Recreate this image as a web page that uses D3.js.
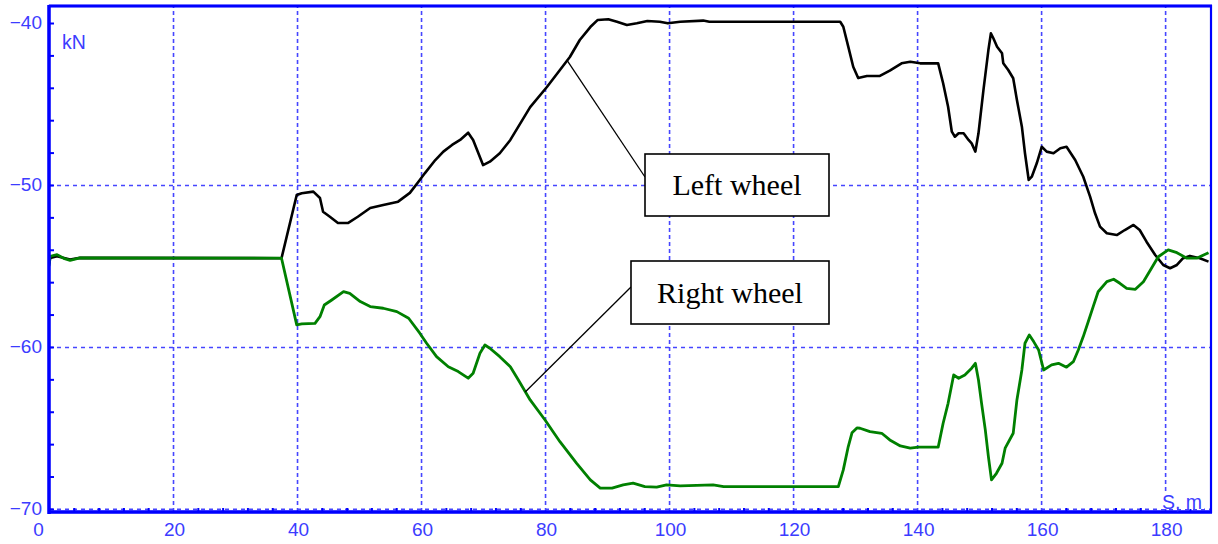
<!DOCTYPE html>
<html>
<head>
<meta charset="utf-8">
<script src="https://cdn.jsdelivr.net/npm/d3@7"></script>
<style>
  html, body { margin: 0; padding: 0; background: #fff; }
  svg { display: block; }
</style>
</head>
<body>
<svg id="chart" width="1218" height="544"></svg>
<script>
// ---------- data ----------
const xTicks = [0, 20, 40, 60, 80, 100, 120, 140, 160, 180];
const yTicks = [-70, -60, -50, -40];
const xUnit = "S, m";
const yUnit = "kN";
const seriesNames = ["Left wheel", "Right wheel"];

const leftWheel = [
  [0,-54.9],[0.2,-54.5],[1.3,-54.4],[3.4,-54.6],[5,-54.5],[37.5,-54.52],[39.95,-50.62],[40.76,-50.51],
  [42.63,-50.41],[43.7,-50.8],[44.2,-51.65],[45.3,-51.96],[46.6,-52.35],[48.2,-52.35],[49.8,-51.96],
  [51.8,-51.42],[53.9,-51.23],[56.3,-51.03],[58.2,-50.49],[59.8,-49.69],[60.6,-49.28],[62.3,-48.46],
  [63.6,-47.94],[65.0,-47.53],[66.3,-47.22],[67.6,-46.77],[68.4,-47.22],[70.0,-48.77],[71.1,-48.56],
  [72.7,-48.04],[74.4,-47.22],[77.6,-45.19],[80.3,-43.95],[82.4,-42.90],[84.0,-42.10],[85.6,-41.05],
  [87.3,-40.25],[88.5,-39.81],[90.2,-39.77],[91.6,-39.92],[93.2,-40.12],[94.8,-40.02],[96.5,-39.88],
  [98.5,-39.92],[99.8,-40.02],[101.8,-39.92],[105.5,-39.85],[106.5,-39.92],[127.6,-39.92],[128.1,-40.23],
  [128.9,-41.46],[129.7,-42.70],[130.5,-43.40],[131.9,-43.27],[134.0,-43.27],[135.6,-42.94],[137.5,-42.49],
  [138.9,-42.39],[140.5,-42.49],[143.4,-42.49],[144.2,-43.72],[145.0,-45.17],[145.6,-46.71],[146.1,-47.02],
  [146.7,-46.81],[147.5,-46.81],[148.3,-47.22],[148.8,-47.43],[149.4,-47.94],[149.9,-46.81],[150.7,-44.14],
  [151.5,-41.67],[151.9,-40.64],[152.3,-40.94],[152.9,-41.46],[153.7,-41.87],[153.9,-42.49],[154.7,-42.90],
  [155.5,-43.41],[156.1,-44.75],[156.9,-46.40],[157.4,-48.04],[158.0,-49.69],[158.5,-49.49],[159.3,-48.66],
  [160.1,-47.64],[160.9,-47.94],[162.0,-48.04],[163.1,-47.73],[164.1,-47.64],[165.5,-48.46],[166.8,-49.49],
  [167.9,-50.72],[168.7,-51.75],[169.5,-52.57],[170.6,-52.98],[172.2,-53.09],[173.5,-52.78],[174.9,-52.47],
  [175.9,-52.78],[177.0,-53.50],[178.4,-54.32],[179.7,-54.94],[180.8,-55.14],[181.9,-54.94],[182.9,-54.52],
  [184.0,-54.38],[185.6,-54.52],[187.0,-54.73]
];

const rightWheel = [
  [0,-55.0],[0.2,-54.4],[1.3,-54.3],[2.5,-54.55],[3.4,-54.65],[5,-54.5],[37.5,-54.52],[39.95,-58.64],
  [40.76,-58.58],[42.9,-58.54],[43.7,-58.13],[44.4,-57.41],[45.6,-57.10],[47.5,-56.59],[48.5,-56.69],
  [50.2,-57.20],[51.8,-57.51],[53.9,-57.61],[56.1,-57.82],[58.0,-58.23],[59.8,-59.15],[60.9,-59.77],
  [62.5,-60.60],[64.4,-61.22],[66.0,-61.52],[67.6,-61.93],[68.4,-61.62],[69.5,-60.39],[70.3,-59.88],
  [71.1,-60.08],[72.7,-60.60],[74.4,-61.22],[75.7,-62.04],[77.6,-63.27],[80.0,-64.51],[82.4,-65.85],
  [85.1,-67.19],[87.3,-68.21],[88.9,-68.72],[90.8,-68.72],[92.6,-68.52],[94.2,-68.41],[96.1,-68.62],
  [98.0,-68.66],[99.6,-68.52],[101.8,-68.58],[107.1,-68.52],[108.8,-68.62],[127.3,-68.62],[128.1,-67.59],
  [128.9,-66.15],[129.5,-65.3],[130.3,-65.0],[130.8,-65.02],[132.4,-65.23],[134.3,-65.33],[135.6,-65.74],
  [137.3,-66.11],[138.9,-66.25],[140.2,-66.19],[143.4,-66.19],[144.2,-64.71],[145.0,-63.48],[145.9,-61.73],
  [146.7,-61.93],[147.7,-61.73],[148.8,-61.31],[149.4,-61.01],[149.9,-62.04],[150.4,-63.48],[151.0,-65.12],
  [151.5,-66.77],[152.0,-68.21],[152.8,-67.80],[153.7,-67.18],[154.2,-66.25],[155.5,-65.33],[156.1,-63.27],
  [156.9,-61.42],[157.4,-59.77],[158.1,-59.26],[158.8,-59.67],[159.6,-60.19],[160.4,-61.42],[161.7,-61.11],
  [162.8,-61.01],[164.1,-61.25],[165.2,-60.91],[166.0,-60.19],[166.8,-59.36],[167.6,-58.44],[168.4,-57.51],
  [169.2,-56.59],[170.6,-55.97],[171.7,-55.82],[172.7,-56.07],[173.8,-56.38],[175.2,-56.44],[176.5,-55.97],
  [177.8,-55.14],[178.9,-54.43],[180.5,-54.01],[181.9,-54.18],[183.5,-54.52],[185.1,-54.52],[187.0,-54.18]
];

// callout anchor points on the curves (data coords)
const leftAnchor = [83.5, -42.28];
const rightAnchor = [76.8, -62.78];

// ---------- layout ----------
const svg = d3.select("#chart");
const plot = { left: 49, right: 1211, top: 6, bottom: 512 };
const x = d3.scaleLinear().domain([0, 187.4]).range([plot.left, plot.right]);
const y = d3.scaleLinear().domain([-70.19, -38.95]).range([plot.bottom, plot.top]);

const gridColor = "#4646ff";
const labelColor = "#3c3cff";
const axisColor = "#0000ff";
const labelFont = "Arial, 'Liberation Sans', sans-serif";

svg.append("rect").attr("width", 1218).attr("height", 544).attr("fill", "#fff");

svg.append("defs").append("clipPath").attr("id", "clip")
  .append("rect")
  .attr("x", plot.left).attr("y", plot.top)
  .attr("width", plot.right - plot.left).attr("height", plot.bottom - plot.top);

// gridlines (vertical)
const gx = svg.append("g")
  .attr("transform", `translate(0,${plot.bottom})`)
  .call(d3.axisBottom(x).tickValues(xTicks.filter(d => d > 0))
    .tickSize(-(plot.bottom - plot.top)).tickFormat(""));
gx.select(".domain").remove();
gx.selectAll("line").attr("stroke", gridColor).attr("stroke-width", 1.6).attr("stroke-dasharray", "4,3");

// gridlines (horizontal)
const gy = svg.append("g")
  .attr("transform", `translate(${plot.left},0)`)
  .call(d3.axisLeft(y).tickValues(yTicks.filter(d => d < -40))
    .tickSize(-(plot.right - plot.left)).tickFormat(""));
gy.select(".domain").remove();
gy.selectAll("line").attr("stroke", gridColor).attr("stroke-width", 1.6).attr("stroke-dasharray", "4,4");

// minor ticks
const mx = svg.append("g")
  .attr("transform", `translate(0,${plot.bottom})`)
  .call(d3.axisBottom(x).tickValues(d3.range(4, 188, 4).filter(d => d % 20 !== 0))
    .tickSize(-4).tickFormat(""));
mx.select(".domain").remove();
mx.selectAll("line").attr("stroke", axisColor).attr("stroke-width", 2);

const my = svg.append("g")
  .attr("transform", `translate(${plot.left},0)`)
  .call(d3.axisLeft(y).tickValues(d3.range(-70, -38, 2))
    .tickSize(-5).tickFormat(""));
my.select(".domain").remove();
my.selectAll("line").attr("stroke", axisColor).attr("stroke-width", 2);

// lines
const line = d3.line().x(d => x(d[0])).y(d => y(d[1])).curve(d3.curveLinear);
const lines = svg.append("g").attr("clip-path", "url(#clip)");
lines.append("path").datum(leftWheel)
  .attr("d", line).attr("fill", "none").attr("stroke", "#000")
  .attr("stroke-width", 2.6).attr("stroke-linejoin", "round");
lines.append("path").datum(rightWheel)
  .attr("d", line).attr("fill", "none").attr("stroke", "#008000")
  .attr("stroke-width", 2.8).attr("stroke-linejoin", "round");

// callouts
function callout(anchor, box, text) {
  const g = svg.append("g");
  g.append("line")
    .attr("x1", x(anchor[0])).attr("y1", y(anchor[1]))
    .attr("x2", box.lx).attr("y2", box.ly)
    .attr("stroke", "#000").attr("stroke-width", 1.3);
  g.append("rect")
    .attr("x", box.x).attr("y", box.y).attr("width", box.w).attr("height", box.h)
    .attr("fill", "#fff").attr("stroke", "#000").attr("stroke-width", 1.6);
  g.append("text")
    .attr("x", box.x + box.w / 2).attr("y", box.y + box.h / 2 + 10)
    .attr("text-anchor", "middle")
    .attr("font-family", "'Liberation Serif', 'Times New Roman', serif")
    .attr("font-size", 30).attr("fill", "#000")
    .text(text);
}
callout(leftAnchor, { x: 645, y: 154, w: 184, h: 62, lx: 645, ly: 177 }, seriesNames[0]);
callout(rightAnchor, { x: 631, y: 261, w: 198, h: 63, lx: 631, ly: 287 }, seriesNames[1]);

// frame
svg.append("rect")
  .attr("x", plot.left).attr("y", plot.top)
  .attr("width", plot.right - plot.left).attr("height", plot.bottom - plot.top)
  .attr("fill", "none").attr("stroke", axisColor).attr("stroke-width", 2.2);
svg.append("line").attr("x1", plot.left).attr("x2", plot.left)
  .attr("y1", plot.top - 1).attr("y2", plot.bottom + 2)
  .attr("stroke", axisColor).attr("stroke-width", 3.5);
svg.append("line").attr("x1", plot.left).attr("x2", plot.right + 1)
  .attr("y1", plot.bottom).attr("y2", plot.bottom)
  .attr("stroke", axisColor).attr("stroke-width", 3.5);
svg.append("line").attr("x1", plot.left).attr("x2", plot.right + 1)
  .attr("y1", plot.top).attr("y2", plot.top)
  .attr("stroke", axisColor).attr("stroke-width", 3);

// tick labels
const ax = svg.append("g")
  .attr("transform", `translate(0,${plot.bottom})`)
  .call(d3.axisBottom(x).tickValues(xTicks).tickSize(0).tickPadding(11));
ax.select(".domain").remove();
ax.selectAll("text")
  .attr("font-family", labelFont).attr("font-size", 19).attr("fill", labelColor)
  .attr("dx", d => d === 0 ? -11 : 1);

const ay = svg.append("g")
  .attr("transform", `translate(${plot.left},0)`)
  .call(d3.axisLeft(y).tickValues(yTicks).tickSize(0).tickPadding(7));
ay.select(".domain").remove();
ay.selectAll("text")
  .attr("font-family", labelFont).attr("font-size", 19).attr("fill", labelColor)
  .attr("dy", "0.3em");

// unit labels
svg.append("text").attr("x", 62).attr("y", 49)
  .attr("font-family", labelFont).attr("font-size", 19.5).attr("fill", labelColor)
  .text(yUnit);
svg.append("rect").attr("x", 1160).attr("y", 493).attr("width", 44).attr("height", 16).attr("fill", "#fff");
svg.append("text").attr("x", 1162).attr("y", 509)
  .attr("font-family", labelFont).attr("font-size", 19.5).attr("fill", labelColor)
  .text(xUnit);
</script>
</body>
</html>
